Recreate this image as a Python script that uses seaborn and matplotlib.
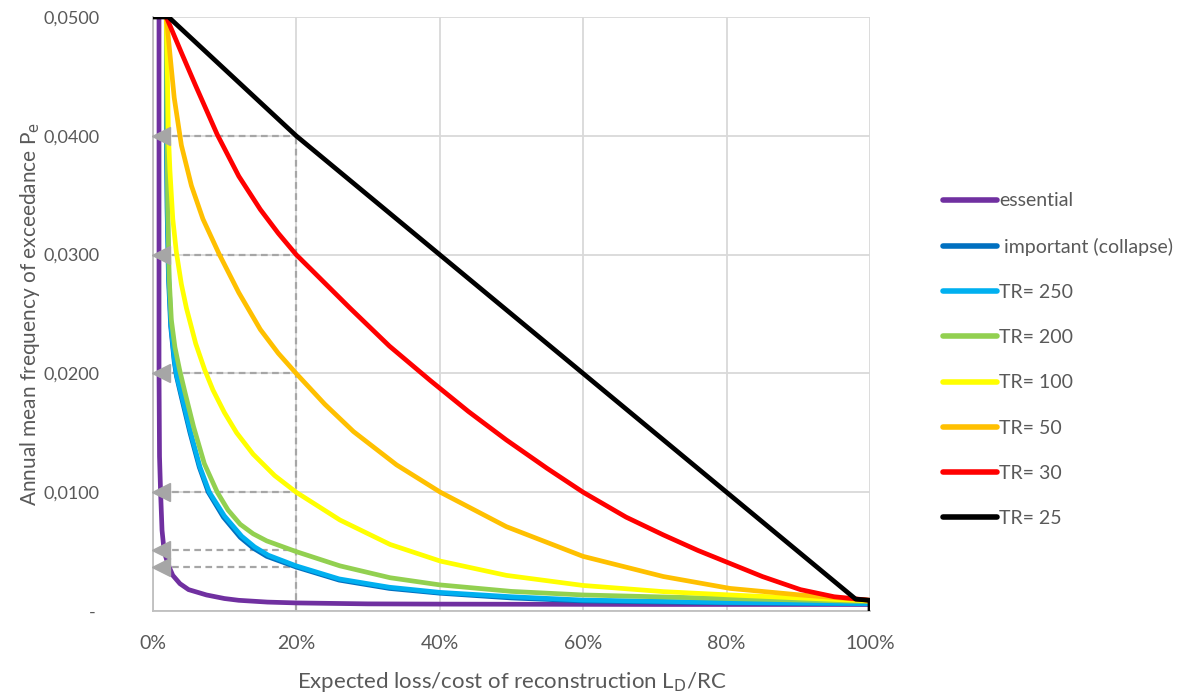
import numpy as np
import pandas as pd
import matplotlib
matplotlib.use("Agg")
import matplotlib.pyplot as plt
import seaborn as sns
from matplotlib.ticker import FuncFormatter

# ---------------- data (L = expected loss / RC as fraction, P = Pe) ----------------
series_names = ["essential", " important (collapse)", "TR= 250", "TR= 200",
                "TR= 100", "TR= 50", "TR= 30", "TR= 25"]
series_colors = ["#7030A0", "#0070C0", "#00B0F0", "#92D050",
                 "#FFFF00", "#FFC000", "#FF0000", "#000000"]

essential_L = [0.0088, 0.0088, 0.0095, 0.011, 0.013, 0.016, 0.020, 0.023, 0.028, 0.038, 0.050, 0.075,
               0.100, 0.120, 0.160, 0.200, 0.300, 0.400, 0.700, 1.000]
essential_P = [0.0500, 0.0200, 0.0130, 0.0100, 0.0068, 0.0050, 0.0042, 0.0037, 0.0030, 0.0023, 0.0018, 0.00135,
               0.00105, 0.00090, 0.00075, 0.00068, 0.00060, 0.00058, 0.00055, 0.00055]

important_L = [0.019, 0.019, 0.020, 0.022, 0.025, 0.030, 0.033, 0.040, 0.052, 0.065, 0.0775, 0.0985,
               0.122, 0.140, 0.159, 0.200, 0.260, 0.330, 0.400, 0.500, 0.600, 0.800, 1.000]
important_P = [0.0500, 0.0400, 0.0340, 0.0280, 0.0240, 0.0210, 0.0198, 0.0180, 0.0150, 0.0121, 0.0100, 0.0079,
               0.0062, 0.0053, 0.0046, 0.0037, 0.0026, 0.0019, 0.0015, 0.0011, 0.00085, 0.00068, 0.00060]

tr250_L = [0.019, 0.0195, 0.0205, 0.0225, 0.0255, 0.0305, 0.0335, 0.041, 0.053, 0.066, 0.079, 0.100,
           0.124, 0.142, 0.161, 0.200, 0.260, 0.330, 0.400, 0.500, 0.600, 0.800, 1.000]
tr250_P = [0.0500, 0.0400, 0.0340, 0.0280, 0.0240, 0.0210, 0.0198, 0.0180, 0.0150, 0.0121, 0.0100, 0.0080,
           0.0063, 0.0054, 0.0047, 0.0038, 0.0027, 0.0020, 0.00157, 0.0012, 0.00092, 0.00072, 0.00062]

tr200_L = [0.019, 0.020, 0.021, 0.023, 0.026, 0.031, 0.0375, 0.045, 0.057, 0.072, 0.090, 0.105,
           0.122, 0.140, 0.159, 0.200, 0.261, 0.331, 0.400, 0.500, 0.600, 0.800, 1.000]
tr200_P = [0.0500, 0.0400, 0.0340, 0.0280, 0.0245, 0.0222, 0.0203, 0.0184, 0.0155, 0.0124, 0.0100, 0.0085,
           0.0073, 0.0065, 0.0059, 0.0050, 0.0038, 0.0028, 0.0022, 0.00165, 0.00135, 0.00105, 0.00080]

tr100_L = [0.019, 0.022, 0.024, 0.028, 0.033, 0.040, 0.047, 0.060, 0.0725, 0.084, 0.100, 0.117,
           0.140, 0.170, 0.200, 0.261, 0.331, 0.401, 0.493, 0.600, 0.712, 0.805, 0.900, 1.000]
tr100_P = [0.0500, 0.0400, 0.0371, 0.0330, 0.0302, 0.0275, 0.0255, 0.0225, 0.0203, 0.0186, 0.0167, 0.0150,
           0.0132, 0.0114, 0.0100, 0.00766, 0.0056, 0.0042, 0.0030, 0.00215, 0.00163, 0.00135, 0.0011, 0.00085]

tr50_L = [0.019, 0.030, 0.040, 0.054, 0.070, 0.093, 0.120, 0.150, 0.175, 0.200, 0.240, 0.280,
          0.340, 0.401, 0.493, 0.600, 0.712, 0.805, 0.903, 1.000]
tr50_P = [0.0500, 0.0432, 0.0392, 0.0358, 0.0330, 0.0300, 0.0268, 0.0237, 0.0217, 0.0200, 0.0174, 0.0151,
          0.0123, 0.0100, 0.0071, 0.0046, 0.0029, 0.0019, 0.00135, 0.00090]

tr30_L = [0.019, 0.040, 0.060, 0.090, 0.120, 0.150, 0.175, 0.200, 0.240, 0.275, 0.330, 0.387,
          0.440, 0.493, 0.550, 0.600, 0.660, 0.712, 0.760, 0.805, 0.850, 0.903, 0.950, 1.000]
tr30_P = [0.0500, 0.0470, 0.0442, 0.0401, 0.0366, 0.0338, 0.0318, 0.0300, 0.0276, 0.0255, 0.0223, 0.0194,
          0.0168, 0.0144, 0.0120, 0.0100, 0.0079, 0.0064, 0.0051, 0.0040, 0.0029, 0.0018, 0.0012, 0.0009]

tr25_L = [0.000, 0.022, 0.200, 0.400, 0.600, 0.800, 0.980, 1.000, 1.000]
tr25_P = [0.0500, 0.0500, 0.0400, 0.0300, 0.0200, 0.0100, 0.0010, 0.0009, 0.0000]

all_L = [essential_L, important_L, tr250_L, tr200_L, tr100_L, tr50_L, tr30_L, tr25_L]
all_P = [essential_P, important_P, tr250_P, tr200_P, tr100_P, tr50_P, tr30_P, tr25_P]

# guide lines (dashed reading lines at L = 20 %)
guide_x = 0.20
guide_levels = [0.0400, 0.0300, 0.0200, 0.0100, 0.0051, 0.0037]

y_ticks = [0.0, 0.01, 0.02, 0.03, 0.04, 0.05]
x_ticks = [0.0, 0.2, 0.4, 0.6, 0.8, 1.0]

# ---------------- build long table ----------------
rows = []
for name, Ls, Ps in zip(series_names, all_L, all_P):
    for l, p in zip(Ls, Ps):
        rows.append({"series": name, "L": l, "P": p})
df = pd.DataFrame(rows)

# ---------------- figure ----------------
sns.set_theme(style="white")
plt.rcParams["font.family"] = ["Lato", "DejaVu Sans"]
text_color = "#595959"
grid_color = "#D9D9D9"
guide_color = "#A6A6A6"

fig = plt.figure(figsize=(11.85, 6.99), dpi=100)
ax = fig.add_axes([152.7 / 1185, 1 - 611 / 699, (870 - 152.7) / 1185, (611 - 17) / 699])

ax.set_xlim(0, 1.0)
ax.set_ylim(0, 0.05)
ax.set_xticks(x_ticks)
ax.set_yticks(y_ticks)
ax.grid(True, color=grid_color, linewidth=1.3, zorder=0)
ax.set_axisbelow(True)
for s in ["top", "right"]:
    ax.spines[s].set_visible(False)
for s in ["left", "bottom"]:
    ax.spines[s].set_color("#BFBFBF")
    ax.spines[s].set_linewidth(1.3)

# guides
ax.plot([guide_x, guide_x], [0, guide_levels[0]], ls=(0, (3, 2)), color=guide_color, lw=1.6, zorder=1)
for lv in guide_levels:
    ax.plot([0.012, guide_x], [lv, lv], ls=(0, (3, 2)), color=guide_color, lw=1.6, zorder=1)

# curves
sns.lineplot(data=df, x="L", y="P", hue="series", hue_order=series_names,
             palette=dict(zip(series_names, series_colors)), sort=False,
             estimator=None, units="series", linewidth=3.4, ax=ax, legend=False, zorder=3)
for ln in ax.lines:
    ln.set_solid_joinstyle("round")
    ln.set_solid_capstyle("butt")

# arrowheads
ax.plot([0.0115] * len(guide_levels), guide_levels, ls="none", marker="<",
        markersize=13, color=guide_color, markeredgecolor=guide_color, zorder=5, clip_on=False)

ax.xaxis.set_major_formatter(FuncFormatter(lambda v, p: f"{v*100:.0f}%"))
ax.yaxis.set_major_formatter(FuncFormatter(lambda v, p: "- " if abs(v) < 1e-12 else f"{v:.4f}".replace(".", ",")))
ax.tick_params(axis="y", length=0, labelsize=13, labelcolor=text_color, pad=38)
ax.tick_params(axis="x", length=0, labelsize=14, labelcolor=text_color, pad=17)

ax.set_xlabel("Expected loss/cost of reconstruction L$_\\mathrm{D}$/RC", fontsize=16, color=text_color, labelpad=13)
ax.set_ylabel("Annual mean frequency of exceedance P$_\\mathrm{e}$", fontsize=15, color=text_color)
ax.yaxis.set_label_coords(-0.155, 0.5)

# legend
handles = [plt.Line2D([0], [0], color=c, lw=4) for c in series_colors]
leg = fig.legend(handles, series_names, loc="upper left", bbox_to_anchor=(925 / 1185, 1 - 175 / 699),
                 frameon=False, fontsize=14, handlelength=2.8, handletextpad=0.12,
                 labelspacing=1.45, labelcolor=text_color)

fig.savefig("out.png", dpi=100)
